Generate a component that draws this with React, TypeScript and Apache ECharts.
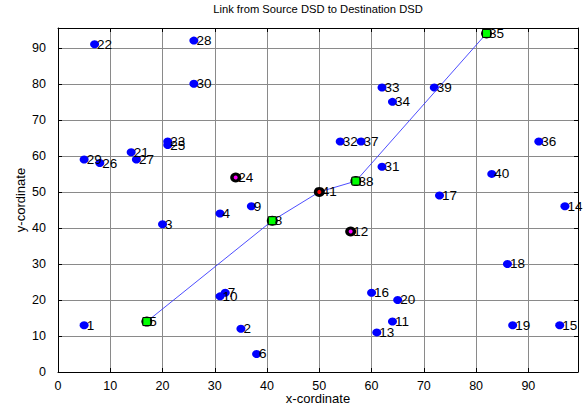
import React, { useEffect, useRef } from "react";
import * as echarts from "echarts";

const nodeIds = [
  1, 2, 3, 4, 5, 6, 7, 8, 9, 10, 11, 12, 13, 14, 15, 16, 17, 18, 19, 20, 21,
  22, 23, 24, 25, 26, 27, 28, 29, 30, 31, 32, 33, 34, 35, 36, 37, 38, 39, 40, 41,
];
const nodeX = [
  5, 35, 20, 31, 17, 38, 32, 41, 37, 31, 64, 56, 61, 97, 96, 60, 73, 86, 87, 65,
  14, 7, 21, 34, 21, 8, 15, 26, 5, 26, 62, 54, 62, 64, 82, 92, 58, 57, 72, 83, 50,
];
const nodeY = [
  13, 12, 41, 44, 14, 5, 22, 42, 46, 21, 14, 39, 11, 46, 13, 22, 49, 30, 13, 20,
  61, 91, 64, 54, 63, 58, 59, 92, 59, 80, 57, 64, 79, 75, 94, 64, 64, 53, 79, 55, 50,
];
const pathNodes = [5, 8, 41, 38, 35];
const greenNodes = [5, 8, 38, 35];
const redNodes = [41];
const magentaNodes = [24, 12];
const xTicks = [0, 10, 20, 30, 40, 50, 60, 70, 80, 90];
const yTicks = [0, 10, 20, 30, 40, 50, 60, 70, 80, 90];
const titleText = "Link from Source DSD to Destination DSD";
const xName = "x-cordinate";
const yName = "y-cordinate";

const FONT = "'Liberation Sans', Arial, sans-serif";

const pt = (id: number) => [nodeX[id - 1], nodeY[id - 1]];

export default function App() {
  const ref = useRef<HTMLDivElement>(null);
  useEffect(() => {
    if (!ref.current) return;
    const chart = echarts.init(ref.current, undefined, { renderer: "svg" });
    const left = 58, right = 9, top = 28, bottom = 35;
    const axisCommon = {
      min: 0,
      interval: 10,
      axisLine: { show: true, onZero: false, lineStyle: { color: "#000", width: 1 } },
      axisTick: { show: true, inside: true, length: 4, lineStyle: { color: "#000" } },
    };
    const option: any = {
      animation: false,
      backgroundColor: "#fff",
      grid: { left, right, top, bottom, show: false, containLabel: false, outerBoundsMode: "none" },
      graphic: [
        {
          type: "text",
          x: left + (587 - left - right) / 2,
          y: 9,
          style: {
            text: titleText,
            fontFamily: FONT,
            fontSize: 11.2,
            fill: "#000",
            align: "center",
            verticalAlign: "middle",
          },
        },
      ],
      xAxis: [
        {
          ...axisCommon,
          type: "value",
          max: 99.5,
          position: "bottom",
          name: xName,
          nameLocation: "middle",
          nameGap: 19,
          nameMoveOverlap: false,
          nameTextStyle: { fontFamily: FONT, fontSize: 13, color: "#000", lineHeight: 15 },
          axisLabel: {
            color: "#000",
            fontFamily: FONT,
            fontSize: 12.5,
            margin: 7,
            showMaxLabel: false,
            formatter: (v: number) => (xTicks.includes(v) ? String(v) : ""),
          },
          splitLine: { show: true, lineStyle: { color: "#8a8a8a", width: 1 } },
        },
        {
          ...axisCommon,
          type: "value",
          max: 99.5,
          position: "top",
          axisLabel: { show: false },
          splitLine: { show: false },
        },
      ],
      yAxis: [
        {
          ...axisCommon,
          type: "value",
          max: 95.5,
          position: "left",
          name: yName,
          nameLocation: "middle",
          nameGap: 30,
          nameMoveOverlap: false,
          nameTextStyle: { fontFamily: FONT, fontSize: 13, color: "#000", lineHeight: 15 },
          axisLabel: {
            color: "#000",
            fontFamily: FONT,
            fontSize: 12.5,
            margin: 12,
            showMaxLabel: false,
            formatter: (v: number) => (yTicks.includes(v) ? String(v) : ""),
          },
          splitLine: { show: true, lineStyle: { color: "#8a8a8a", width: 1 } },
        },
        {
          ...axisCommon,
          type: "value",
          max: 95.5,
          position: "right",
          axisLabel: { show: false },
          splitLine: { show: false },
        },
      ],
      series: [
        {
          type: "line",
          data: pathNodes.map(pt),
          showSymbol: false,
          symbol: "none",
          lineStyle: { color: "#3a3aff", width: 0.9 },
          z: 3,
          silent: true,
        },
        {
          type: "scatter",
          data: nodeIds.map(pt),
          symbol: "circle",
          symbolSize: [9, 8],
          itemStyle: { color: "#0000ff", opacity: 1 },
          z: 2,
        },
        {
          type: "scatter",
          data: [...pathNodes, ...magentaNodes].map(pt),
          symbol: "circle",
          symbolSize: [11, 10],
          itemStyle: { color: "#000", opacity: 1 },
          z: 4,
        },
        {
          type: "scatter",
          data: redNodes.map(pt),
          symbol: "circle",
          symbolSize: 4,
          itemStyle: { color: "#ff0000", opacity: 1 },
          z: 5,
        },
        {
          type: "scatter",
          data: magentaNodes.map(pt),
          symbol: "circle",
          symbolSize: 4,
          itemStyle: { color: "#ff00ff", opacity: 1 },
          z: 5,
        },
        {
          type: "scatter",
          data: greenNodes.map(pt),
          symbol: "rect",
          symbolSize: 8,
          itemStyle: { color: "#00ff00", borderColor: "#000", borderWidth: 1, opacity: 1 },
          z: 6,
        },
        {
          type: "scatter",
          data: nodeIds.map((id) => ({ value: pt(id), name: String(id) })),
          symbol: "circle",
          symbolSize: 8,
          itemStyle: { color: "rgba(0,0,0,0)", opacity: 1 },
          label: {
            show: true,
            position: "right",
            distance: -1.5,
            formatter: (p: any) => p.name,
            fontFamily: FONT,
            fontSize: 13.5,
            color: "#000",
          },
          labelLayout: { hideOverlap: false },
          silent: true,
          z: 10,
        },
      ],
    };
    chart.setOption(option);
    return () => chart.dispose();
  }, []);
  return (
    <div
      ref={ref}
      style={{ position: "fixed", left: 0, top: 0, width: 587, height: 407, background: "#fff" }}
    />
  );
}
